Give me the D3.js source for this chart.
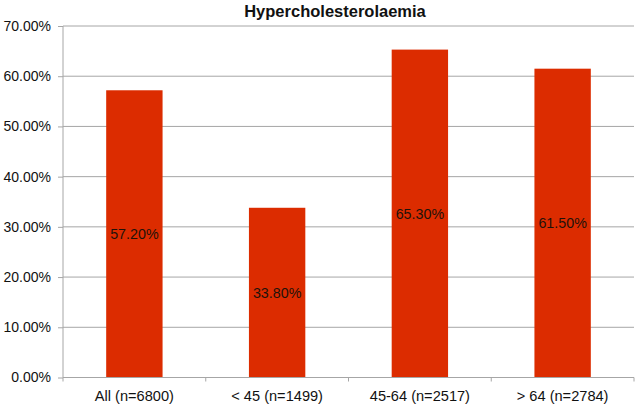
<!DOCTYPE html>
<html><head><meta charset="utf-8">
<script src="https://cdn.jsdelivr.net/npm/d3@7"></script>
<style>body{margin:0;background:#fff}svg{display:block;font-family:"Liberation Sans",Arial,Helvetica,sans-serif}</style>
</head><body>
<svg id="c" width="636" height="406"></svg>
<script>
const categories = ["All (n=6800)", "< 45 (n=1499)", "45-64 (n=2517)", "> 64 (n=2784)"];
const values = [57.2, 33.8, 65.3, 61.5];
const yTicks = [0, 10, 20, 30, 40, 50, 60, 70];
const title = "Hypercholesterolaemia";

const svg = d3.select("#c");
const m = {left: 63, right: 2, top: 26, bottom: 28.5};
const W = 636, H = 406;
const x = d3.scaleBand().domain(categories).range([m.left, W - m.right]).paddingInner(0.605).paddingOuter(0.3025);
const y = d3.scaleLinear().domain([0, 70]).range([H - m.bottom, m.top]);
const axisColor = "#a6a6a6";

// gridlines
svg.append("g").selectAll("line").data(yTicks).join("line")
  .attr("x1", m.left).attr("x2", W - m.right)
  .attr("y1", d => y(d)).attr("y2", d => y(d))
  .attr("stroke", axisColor).attr("stroke-width", 1);

// bars
svg.append("g").selectAll("rect").data(values).join("rect")
  .attr("x", (d, i) => x(categories[i]))
  .attr("width", x.bandwidth())
  .attr("y", d => y(d))
  .attr("height", d => y(0) - y(d))
  .attr("fill", "#dc2c00");

// bar labels
svg.append("g").selectAll("text").data(values).join("text")
  .attr("x", (d, i) => x(categories[i]) + x.bandwidth() / 2)
  .attr("y", d => (y(d) + y(0)) / 2)
  .attr("dy", "0.35em")
  .attr("text-anchor", "middle")
  .attr("font-size", 14.3)
  .attr("fill", "#1e120a")
  .text(d => d.toFixed(2) + "%");

// y axis
const ya = svg.append("g").attr("transform", `translate(${m.left},0)`)
  .call(d3.axisLeft(y).tickValues(yTicks).tickSize(5).tickPadding(7).tickFormat(d => d.toFixed(2) + "%"));
ya.select(".domain").attr("stroke", axisColor).attr("d", `M0,${y(70)}V${y(0)}`);
ya.selectAll(".tick line").attr("stroke", axisColor);
ya.selectAll("text").attr("font-size", 14).attr("fill", "#111").attr("font-family", "Liberation Sans, Arial, sans-serif");

// x axis
const xa = svg.append("g").attr("transform", `translate(0,${y(0)})`)
  .call(d3.axisBottom(x).tickSize(0).tickPadding(13));
xa.select(".domain").attr("stroke", axisColor).attr("d", `M${m.left},0H${W - m.right}`);
xa.selectAll("text").attr("font-size", 14.6).attr("fill", "#111").attr("font-family", "Liberation Sans, Arial, sans-serif");
// category boundary ticks
const bounds = d3.range(categories.length + 1).map(i => m.left + i * (W - m.right - m.left) / categories.length);
svg.append("g").selectAll("line").data(bounds).join("line")
  .attr("x1", d => d).attr("x2", d => d)
  .attr("y1", y(0)).attr("y2", y(0) + 4)
  .attr("stroke", axisColor);

// title
svg.append("text").attr("x", 335).attr("y", 17)
  .attr("text-anchor", "middle").attr("font-weight", "bold").attr("font-size", 16.5)
  .attr("fill", "#111").text(title);
</script>
</body></html>
